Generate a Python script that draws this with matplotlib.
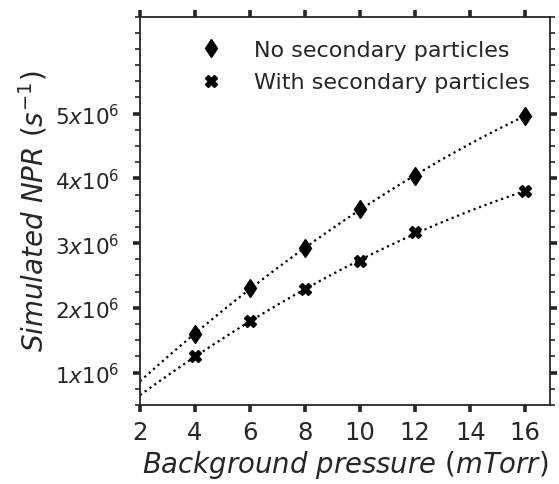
import numpy as np
import matplotlib
matplotlib.use("Agg")
import matplotlib.pyplot as plt
from matplotlib.ticker import FixedLocator, MultipleLocator

pressure = [4, 6, 8, 10, 12, 16]
npr_no_secondary = [1.60e6, 2.30e6, 2.93e6, 3.52e6, 4.04e6, 4.97e6]
npr_with_secondary = [1.25e6, 1.79e6, 2.29e6, 2.72e6, 3.17e6, 3.80e6]
series_labels = ["No secondary particles", "With secondary particles"]
xtick_values = [2, 4, 6, 8, 10, 12, 14, 16]
ytick_values = [1e6, 2e6, 3e6, 4e6, 5e6]
ytick_labels = [r"$1x10^{6}$", r"$2x10^{6}$", r"$3x10^{6}$", r"$4x10^{6}$", r"$5x10^{6}$"]

txt = "#262626"
plt.rcParams["mathtext.fontset"] = "dejavusans"

fig = plt.figure(figsize=(5.59, 4.85), dpi=100)
ax = fig.add_axes([0.2504, 0.1629, 0.7335, 0.801])

xfit = np.linspace(2, 16, 200)
for yv in (npr_no_secondary, npr_with_secondary):
    c = np.polyfit(pressure, yv, 2)
    ax.plot(xfit, np.polyval(c, xfit), ls=":", lw=1.6, color="black", zorder=2)

ax.plot(pressure, npr_no_secondary, ls="none", marker="d", ms=9.5, color="black",
        label=series_labels[0], zorder=3)
ax.plot(pressure, npr_with_secondary, ls="none", marker="X", ms=8, color="black",
        label=series_labels[1], zorder=3)

ax.set_xlim(2, 16.9)
ax.set_ylim(0.5e6, 6.5e6)
ax.xaxis.set_major_locator(FixedLocator(xtick_values))
ax.yaxis.set_major_locator(FixedLocator(ytick_values))
ax.set_yticklabels(ytick_labels)
ax.yaxis.set_minor_locator(MultipleLocator(0.25e6))

for s in ax.spines.values():
    s.set_linewidth(1.3)
    s.set_color(txt)

ax.tick_params(which="major", direction="out", length=5, width=2.6, color=txt,
               top=True, right=True, labelcolor=txt)
ax.tick_params(which="minor", direction="out", length=3.6, width=1.2, color=txt,
               left=True, right=True)
ax.tick_params(axis="x", labelsize=17.5, pad=6)
ax.tick_params(axis="y", labelsize=15.5, pad=10)

ax.set_xlabel(r"$Background\ pressure\ (mTorr)$", fontsize=19.8, color=txt, labelpad=3)
ax.set_ylabel(r"$Simulated\ NPR\ (s^{-1})$", fontsize=20, color=txt, labelpad=4)

leg = ax.legend(loc="upper right", bbox_to_anchor=(0.972, 0.962), borderaxespad=0,
                frameon=False, fontsize=16, numpoints=1, handletextpad=0.9,
                labelspacing=0.55)
for t in leg.get_texts():
    t.set_color(txt)

fig.savefig("out.png", dpi=100)
